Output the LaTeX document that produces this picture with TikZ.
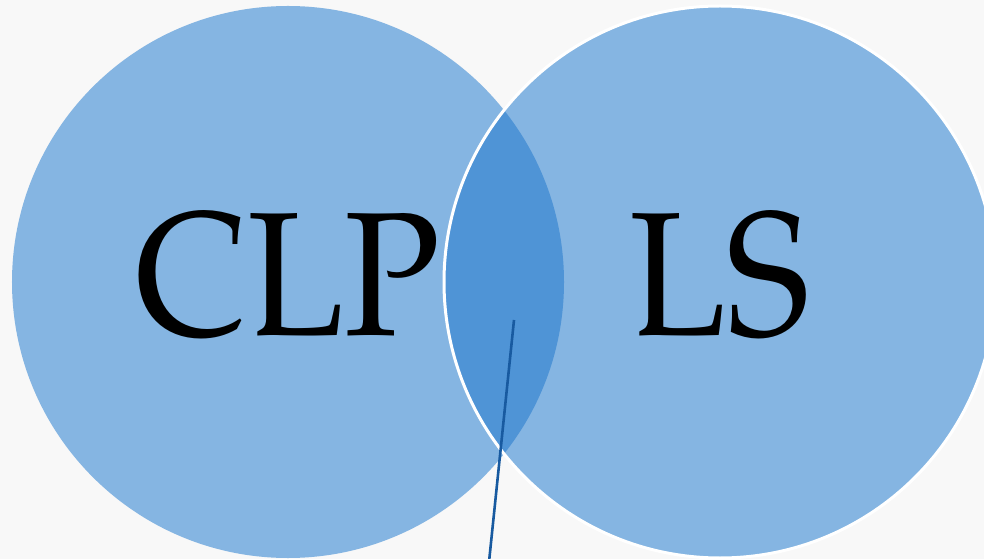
\documentclass[tikz,border=0pt]{standalone}
\begin{document}
\begin{tikzpicture}[x=1bp,y=-1bp,
  setcircle/.style={circle,minimum size=552bp,inner sep=0pt},
  biglabel/.style={font=\fontencoding{OT1}\fontfamily{ppl}\fontsize{177}{195}\selectfont,text=black,anchor=base,inner sep=0pt,xscale=0.9,transform shape},
  pointer/.style={draw={rgb,255:red,24;green,90;blue,160},line width=2.6bp}]
\definecolor{bg}{RGB}{248,248,248}
\definecolor{setblue}{RGB}{133,181,226}
\definecolor{overlapblue}{RGB}{79,148,214}
\useasboundingbox (0,0) rectangle (984,559);
\clip (0,0) rectangle (984,559);
\fill[bg] (0,0) rectangle (984,559);
\node[setcircle,fill=setblue] (L) at (288,282) {};
\node[setcircle,fill=setblue] (R) at (720,282) {};
\begin{scope}
  \clip (288,282) circle[radius=276];
  \fill[overlapblue] (720,282) circle[radius=276];
\end{scope}
\draw[white,line width=3bp] (720,282) circle[radius=276];
\node[biglabel] (clp) at (288,336) {CLP};
\node[biglabel] (ls) at (720,336) {LS};
\coordinate (p) at (514,320);
\coordinate (q) at (489,562);
\draw[pointer] (p) -- (q);
\end{tikzpicture}
\end{document}
